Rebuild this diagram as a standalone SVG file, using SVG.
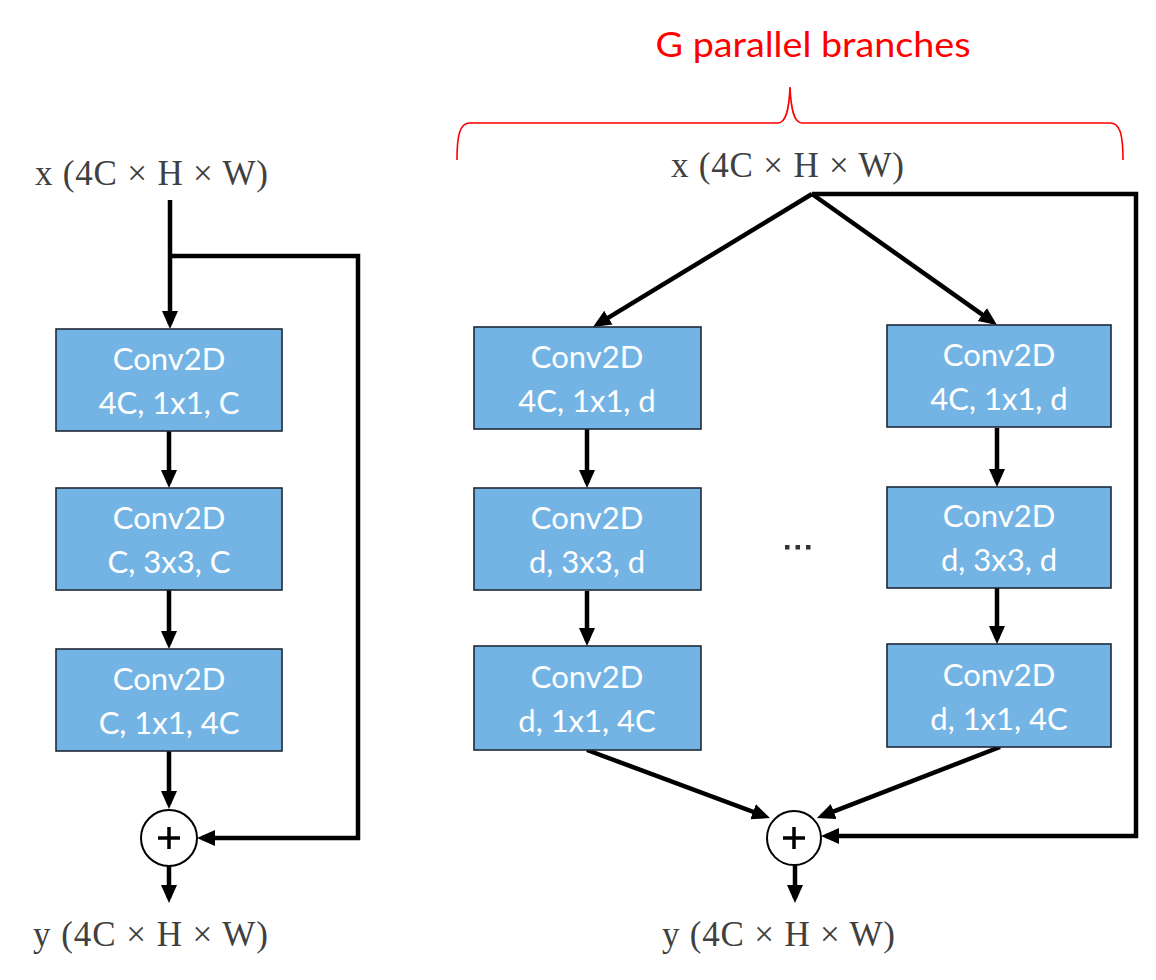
<svg xmlns="http://www.w3.org/2000/svg" width="1156" height="980" viewBox="0 0 1156 980">
<style>
.box{fill:#74B4E4;stroke:#1F2A36;stroke-width:1.6}
.bt{font-family:Lato,"Open Sans","Liberation Sans",sans-serif;font-size:31px;fill:#ffffff;text-anchor:middle}
.io{font-family:"Liberation Serif","DejaVu Serif",serif;font-size:35px;fill:#404040}
.ln{fill:none;stroke:#000;stroke-width:4.5;marker-end:url(#ah)}
.sum{fill:#fff;stroke:#000;stroke-width:2}
.plus{stroke:#000;stroke-width:3.5}
</style>
<defs>
<marker id="ah" markerUnits="userSpaceOnUse" markerWidth="20" markerHeight="18" refX="13" refY="8" orient="auto">
<path d="M0,0 L18,8 L0,16 z" fill="#000"/>
</marker>
</defs>
<rect width="1156" height="980" fill="#fff"/>

<g id="title">
<text x="813" y="57" font-family="Lato,'Open Sans','Liberation Sans',sans-serif" font-size="35" fill="#FF0000" text-anchor="middle" textLength="315" lengthAdjust="spacingAndGlyphs">G parallel branches</text>
<path d="M457,160 C457,134 460,123 470,123 L778,123 C786,123 789,110 790,87 C791,110 794,123 802,123 L1110,123 C1120,123 1123,134 1123,160" fill="none" stroke="#FF0000" stroke-width="1.6"/>
</g>

<g id="labels">
<text class="io" x="35" y="185" textLength="233" lengthAdjust="spacing">x (4C × H × W)</text>
<text class="io" x="33" y="946" textLength="235" lengthAdjust="spacing">y (4C × H × W)</text>
<text class="io" x="671" y="177" textLength="233" lengthAdjust="spacing">x (4C × H × W)</text>
<text class="io" x="662" y="946" textLength="233" lengthAdjust="spacing">y (4C × H × W)</text>
<g id="ellipsis" fill="#333">
<rect x="785" y="545" width="4.5" height="4.5"/>
<rect x="795.5" y="545" width="4.5" height="4.5"/>
<rect x="806" y="545" width="4.5" height="4.5"/>
</g>
</g>

<g id="connectors">
<path class="ln" d="M170,200 V324"/>
<path class="ln" d="M170,256 H358 V838 H202"/>
<path class="ln" d="M169,431 V483"/>
<path class="ln" d="M169,590 V644"/>
<path class="ln" d="M169,751 V804"/>
<path class="ln" d="M169,866 V898"/>

<path class="ln" d="M812,194 L597.3,324.4"/>
<path class="ln" d="M812,194 L992.9,322.1"/>
<path class="ln" d="M812,194 H1136 V836 H826"/>
<path class="ln" d="M587,429 V483"/>
<path class="ln" d="M587,591 V641"/>
<path class="ln" d="M997,428 V482"/>
<path class="ln" d="M997,588 V639"/>
<path class="ln" d="M587,750 L765.3,816.3"/>
<path class="ln" d="M1000,747 L821.6,816.2"/>
<path class="ln" d="M795,865 V898"/>
</g>

<g id="L1"><rect class="box" x="56" y="329" width="226" height="102"/><text class="bt" x="169" y="370">Conv2D</text><text class="bt" x="169" y="414">4C, 1x1, C</text></g>
<g id="L2"><rect class="box" x="56" y="488" width="226" height="102"/><text class="bt" x="169" y="529">Conv2D</text><text class="bt" x="169" y="573">C, 3x3, C</text></g>
<g id="L3"><rect class="box" x="56" y="649" width="226" height="102"/><text class="bt" x="169" y="690">Conv2D</text><text class="bt" x="169" y="734">C, 1x1, 4C</text></g>
<g id="Lsum"><circle class="sum" cx="169" cy="838" r="28"/><path class="plus" d="M158,838 H180 M169,827 V849"/></g>

<g id="A1"><rect class="box" x="474" y="327" width="227" height="102"/><text class="bt" x="587" y="368">Conv2D</text><text class="bt" x="587" y="412">4C, 1x1, d</text></g>
<g id="A2"><rect class="box" x="474" y="488" width="227" height="102"/><text class="bt" x="587" y="529">Conv2D</text><text class="bt" x="587" y="573">d, 3x3, d</text></g>
<g id="A3"><rect class="box" x="474" y="646" width="227" height="104"/><text class="bt" x="587" y="688">Conv2D</text><text class="bt" x="587" y="732">d, 1x1, 4C</text></g>

<g id="B1"><rect class="box" x="887" y="325" width="224" height="102"/><text class="bt" x="999" y="366">Conv2D</text><text class="bt" x="999" y="410">4C, 1x1, d</text></g>
<g id="B2"><rect class="box" x="887" y="487" width="224" height="101"/><text class="bt" x="999" y="527">Conv2D</text><text class="bt" x="999" y="571">d, 3x3, d</text></g>
<g id="B3"><rect class="box" x="887" y="644" width="224" height="103"/><text class="bt" x="999" y="686">Conv2D</text><text class="bt" x="999" y="730">d, 1x1, 4C</text></g>

<g id="Rsum"><circle class="sum" cx="794" cy="838" r="27"/><path class="plus" d="M783,838 H805 M794,827 V849"/></g>
</svg>
